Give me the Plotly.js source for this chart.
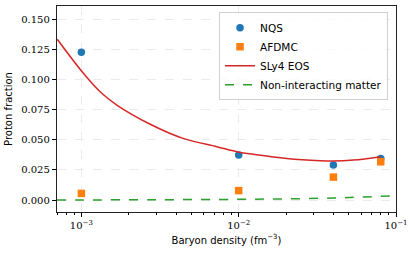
<!DOCTYPE html>
<html><head><meta charset="utf-8">
<script src="https://cdn.plot.ly/plotly-3.0.1.min.js"></script>
<style>html,body{margin:0;padding:0;background:#fff}#c{width:415px;height:255px}</style>
</head><body><div id="c"></div>
<script>
const densQ = [0.001, 0.01, 0.04, 0.08];
const nqs = [0.1224, 0.0373, 0.0290, 0.0345];
const afdmc = [0.0055, 0.0078, 0.0190, 0.0317];
const slyDens = [0.000703, 0.00103, 0.001315, 0.00168, 0.00274, 0.00443, 0.00726, 0.01, 0.0124, 0.0202, 0.0329, 0.0398, 0.0536, 0.08];
const slyFrac = [0.1332, 0.1050, 0.0897, 0.0787, 0.0628, 0.0511, 0.0442, 0.0397, 0.0379, 0.0345, 0.0326, 0.0323, 0.0331, 0.0359];
const freeDens = [0.0007, 0.001, 0.003, 0.01, 0.02, 0.04, 0.06, 0.1];
const freeFrac = [0.0001, 0.0001, 0.0003, 0.0006, 0.001, 0.0017, 0.0025, 0.0035];
const yTicks = [0, 0.025, 0.05, 0.075, 0.1, 0.125, 0.15];
const yTickText = ['0.000','0.025','0.050','0.075','0.100','0.125','0.150'];
const xTicks = [0.001, 0.01, 0.1];
const xTickText = ['10<sup>−3</sup>','10<sup>−2</sup>','10<sup>−1</sup>'];
const minorTicks = [];
[0.0001,0.001,0.01].forEach(d=>{for(let k=2;k<=9;k++) minorTicks.push(d*k);});

const serif = '"DejaVu Serif", "Liberation Serif", serif';
const sans = '"DejaVu Sans", sans-serif';
const traces = [
 {x: densQ, y: nqs, mode:'markers', name:'NQS', marker:{color:'#1f77b4', size:7.5, symbol:'circle'}},
 {x: densQ, y: afdmc, mode:'markers', name:'AFDMC', marker:{color:'#ff7f0e', size:7.5, symbol:'square'}},
 {x: slyDens, y: slyFrac, mode:'lines', name:'SLy4 EOS', line:{color:'#d62728', width:1.5, shape:'spline', smoothing:1}},
 {x: freeDens, y: freeFrac, mode:'lines', name:'Non-interacting matter', line:{color:'#2ca02c', width:1.5, dash:'dash', shape:'spline'}},
 {x: minorTicks, y: minorTicks.map(()=>null), xaxis:'x2', mode:'markers', showlegend:false, hoverinfo:'skip'}
];
const lr = [Math.log10(0.000700), -1];
const layout = {
 width:415, height:255,
 margin:{l:57, r:19, t:6, b:43},
 paper_bgcolor:'#fff', plot_bgcolor:'#fff',
 showlegend:true,
 legend:{x:0.478, y:0.97, xanchor:'left', yanchor:'top', bgcolor:'rgba(255,255,255,0.8)',
   bordercolor:'#d0d0d0', borderwidth:1, font:{family:sans, size:10.5, color:'#000'},
   traceorder:'normal', tracegroupgap:0, itemwidth:30},
 xaxis:{type:'log', range:lr, tickvals:xTicks, ticktext:xTickText, ticks:'outside', ticklen:4,
   tickcolor:'#000', showgrid:true, gridcolor:'#e6e6e6', griddash:'dash', gridwidth:0.8,
   showline:true, linecolor:'#222', linewidth:1.2, mirror:true, zeroline:false,
   tickfont:{family:serif, size:10, color:'#000'},
   title:{text:'Baryon density (fm<sup>−3</sup>)', font:{family:sans, size:10, color:'#000'}, standoff:6}},
 xaxis2:{type:'log', range:lr, overlaying:'x', tickvals:minorTicks, showticklabels:false, ticks:'outside',
   ticklen:2, tickcolor:'#000', showgrid:false, showline:false, zeroline:false, anchor:'y'},
 yaxis:{range:[-0.0099, 0.1608], tickvals:yTicks, ticktext:yTickText, ticks:'outside', ticklen:4,
   tickcolor:'#000', showgrid:true, gridcolor:'#e6e6e6', griddash:'dash', gridwidth:0.8,
   showline:true, linecolor:'#222', linewidth:1.2, mirror:true, zeroline:false,
   tickfont:{family:serif, size:10, color:'#000'},
   title:{text:'Proton fraction', font:{family:sans, size:10, color:'#000'}, standoff:6}}
};
Plotly.newPlot('c', traces, layout, {staticPlot:true, displayModeBar:false});
</script></body></html>
